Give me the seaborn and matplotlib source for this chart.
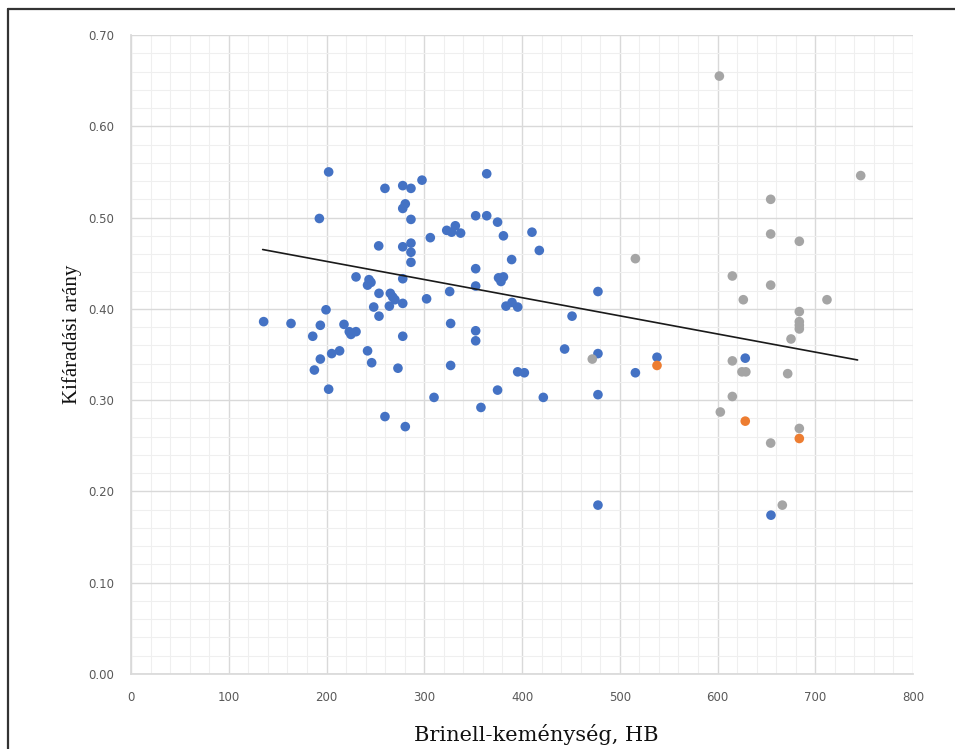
import matplotlib
matplotlib.use("Agg")
import matplotlib.pyplot as plt
from matplotlib.ticker import MultipleLocator, FormatStrFormatter
from matplotlib.lines import Line2D
import seaborn as sns
import pandas as pd

# ---- data ----
blue_hb = [135.7, 163.7, 185.9, 187.6, 192.7, 193.7, 193.7, 199.5, 202.2, 202.2,
           205.3, 213.4, 217.9, 223.3, 225.0, 230.2, 230.2, 242.0, 243.5, 245.5,
           242.0, 246.2, 248.3, 253.4, 253.7, 253.7, 259.8, 259.8, 264.3, 265.3,
           267.7, 270.0, 273.1, 278.0, 278.0, 280.6, 278.0, 278.0, 278.0, 278.0,
           280.6, 286.4, 286.4, 286.4, 286.4, 286.4, 297.7, 302.4, 306.2, 310.0,
           323.0, 326.0, 327.0, 327.0, 328.0, 331.8, 337.2, 352.6, 352.6, 352.6,
           352.6, 352.6, 358.0, 363.9, 363.9, 375.0, 376.0, 378.5, 381.0, 375.0,
           381.0, 383.6, 389.4, 389.8, 395.6, 395.6, 402.4, 410.2, 417.7, 421.8,
           443.6, 451.2, 477.7, 477.7, 477.7, 477.7, 516.0, 538.1, 628.4, 654.7]
blue_ratio = [0.386, 0.384, 0.370, 0.333, 0.499, 0.382, 0.345, 0.399, 0.550, 0.312,
              0.351, 0.354, 0.383, 0.375, 0.372, 0.375, 0.435, 0.354, 0.432, 0.429,
              0.426, 0.341, 0.402, 0.469, 0.417, 0.392, 0.532, 0.282, 0.403, 0.417,
              0.413, 0.410, 0.335, 0.535, 0.510, 0.515, 0.468, 0.433, 0.406, 0.370,
              0.271, 0.532, 0.498, 0.472, 0.462, 0.451, 0.541, 0.411, 0.478, 0.303,
              0.486, 0.419, 0.384, 0.338, 0.484, 0.491, 0.483, 0.502, 0.444, 0.425,
              0.376, 0.365, 0.292, 0.548, 0.502, 0.495, 0.434, 0.430, 0.435, 0.311,
              0.480, 0.403, 0.454, 0.407, 0.402, 0.331, 0.330, 0.484, 0.464, 0.303,
              0.356, 0.392, 0.419, 0.351, 0.306, 0.185, 0.330, 0.347, 0.346, 0.174]

gray_hb = [471.9, 516.0, 601.9, 602.9, 615.2, 615.2, 615.2, 625.0, 629.0, 626.4,
           654.4, 654.4, 654.4, 654.4, 666.3, 671.8, 675.2, 683.7, 683.7, 683.7,
           683.7, 683.7, 683.7, 712.0, 746.5]
gray_ratio = [0.345, 0.455, 0.655, 0.287, 0.436, 0.343, 0.304, 0.331, 0.331, 0.410,
              0.520, 0.482, 0.426, 0.253, 0.185, 0.329, 0.367, 0.474, 0.397, 0.386,
              0.382, 0.378, 0.269, 0.410, 0.546]

orange_hb = [538.1, 628.4, 683.7]
orange_ratio = [0.338, 0.277, 0.258]

trend_hb = [134.7, 743.3]
trend_ratio = [0.465, 0.344]

x_ticks = [0, 100, 200, 300, 400, 500, 600, 700, 800]
y_ticks = [0.00, 0.10, 0.20, 0.30, 0.40, 0.50, 0.60, 0.70]

x_label = "Brinell-keménység, HB"
y_label = "Kifáradási arány"

# ---- build table ----
df = pd.DataFrame({
    "hb": blue_hb + orange_hb + gray_hb,
    "ratio": blue_ratio + orange_ratio + gray_ratio,
    "group": ["blue"] * len(blue_hb) + ["orange"] * len(orange_hb) + ["gray"] * len(gray_hb),
})
palette = {"blue": "#4472C4", "orange": "#ED7D31", "gray": "#A5A5A5"}

sns.set_theme(style="white")
plt.rcParams["font.family"] = ["DejaVu Sans"]

fig = plt.figure(figsize=(9.55, 7.49), dpi=100)
fig.patch.set_facecolor("white")
ax = fig.add_axes([131 / 955, 1 - 674 / 749, (913 - 131) / 955, (674 - 35) / 749])

# grid
ax.set_xlim(0, 800)
ax.set_ylim(0, 0.70)
ax.xaxis.set_major_locator(MultipleLocator(100))
ax.xaxis.set_minor_locator(MultipleLocator(20))
ax.yaxis.set_major_locator(MultipleLocator(0.1))
ax.yaxis.set_minor_locator(MultipleLocator(0.02))
ax.grid(which="major", color="#D9D9D9", linewidth=1.0, zorder=0)
ax.grid(which="minor", color="#EFEFEF", linewidth=0.8, zorder=0)
ax.set_axisbelow(True)

sns.scatterplot(data=df, x="hb", y="ratio", hue="group", palette=palette,
                s=48, edgecolor="none", linewidth=0, legend=False, ax=ax, zorder=3)
sns.lineplot(x=trend_hb, y=trend_ratio, color="#1a1a1a", linewidth=1.2, ax=ax, zorder=4)

ax.set_xticks(x_ticks)
ax.set_yticks(y_ticks)
ax.yaxis.set_major_formatter(FormatStrFormatter("%.2f"))
ax.tick_params(axis="both", which="both", length=0, labelsize=8.5, labelcolor="#595959")
ax.tick_params(axis="x", pad=12)
ax.tick_params(axis="y", pad=12)

for side in ["top", "right"]:
    ax.spines[side].set_visible(False)
ax.spines["left"].set_color("#D9D9D9")
ax.spines["bottom"].set_color("#D9D9D9")

ax.set_xlabel(x_label, fontsize=15, family=["DejaVu Serif"], color="#111111")
ax.set_ylabel(y_label, fontsize=15, family=["Liberation Serif", "DejaVu Serif"], color="#111111")
ax.xaxis.set_label_coords((536 - 131) / 782, (674 - 724) / 639)
ax.yaxis.set_label_coords((82 - 131) / 782, (674 - 334) / 639)

# outer frame (top and left edges)
fig.add_artist(Line2D([8 / 955, 1.0], [1 - 9 / 749, 1 - 9 / 749], transform=fig.transFigure,
                      color="#333333", linewidth=1.6))
fig.add_artist(Line2D([8 / 955, 8 / 955], [0.0, 1 - 9 / 749], transform=fig.transFigure,
                      color="#333333", linewidth=1.6))

fig.savefig("out.png", dpi=100, facecolor="white")
